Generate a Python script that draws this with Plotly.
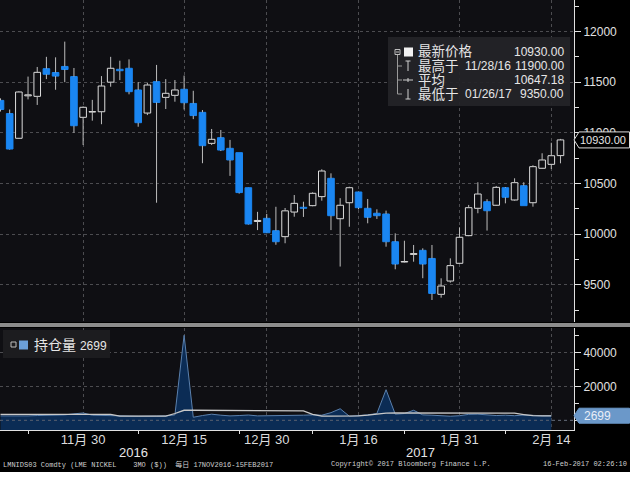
import plotly.graph_objects as go

# ---------------- data ----------------
trade_days = ["11/17/16","11/18/16","11/21/16","11/22/16","11/23/16","11/24/16","11/25/16",
              "11/28/16","11/29/16","11/30/16","12/01/16","12/02/16","12/05/16","12/06/16",
              "12/07/16","12/08/16","12/09/16","12/12/16","12/13/16","12/14/16","12/15/16",
              "12/16/16","12/19/16","12/20/16","12/21/16","12/22/16","12/23/16","12/28/16",
              "12/29/16","12/30/16","01/03/17","01/04/17","01/05/17","01/06/17","01/09/17",
              "01/10/17","01/11/17","01/12/17","01/13/17","01/16/17","01/17/17","01/18/17",
              "01/19/17","01/20/17","01/23/17","01/24/17","01/25/17","01/26/17","01/27/17",
              "01/30/17","01/31/17","02/01/17","02/02/17","02/03/17","02/06/17","02/07/17",
              "02/08/17","02/09/17","02/10/17","02/13/17","02/14/17","02/15/17"]

opens  = [11320,11190,10946,11365,11360,11633,11595,11655,11555,11153,11205,11208,11500,11627,
          11637,11423,11195,11505,11350,11370,11430,11290,11202,10896,10952,10847,10804,10458,
          10125,10156,10034,9975,10218,10265,10281,10370,10551,10152,10310,10416,10255,10206,
          10199,9925,9725,9800,9840,9760,9406,9537,9712,9985,10255,10320,10285,10458,10337,
          10478,10310,10650,10689,10775]
highs  = [11340,11230,11410,11555,11650,11750,11745,11900,11640,11260,11325,11560,11750,11712,
          11725,11500,11495,11670,11530,11521,11565,11415,11225,11038,11028,10930,10805,10460,
          10220,10200,10270,10258,10386,10320,10413,10640,10600,10355,10468,10420,10347,10245,
          10232,10008,9935,9893,9860,9893,9564,9761,10067,10288,10512,10345,10475,10465,10551,
          10512,10680,10798,10902,10940]
lows   = [11210,10835,10940,11330,11275,11530,11425,11500,11000,10880,11120,11085,11455,11520,
          11380,11060,11175,10310,11235,11307,11230,11135,10700,10880,10820,10575,10400,10095,
          10040,10010,9895,9910,10172,10170,10275,10330,10040,9680,10073,10245,10107,10150,
          9876,9653,9720,9728,9565,9350,9373,9521,9705,9980,10206,10035,10280,10304,10330,
          10281,10271,10645,10643,10699]
closes = [11230,10840,11403,11375,11597,11578,11560,11625,11070,11252,11210,11462,11637,11613,
          11406,11100,11472,11300,11390,11423,11297,11170,10873,10936,10830,10732,10410,10100,
          10135,10014,9925,10230,10304,10255,10403,10623,10182,10285,10458,10261,10166,10182,
          9925,9705,9730,9808,9705,9415,9488,9689,9969,10261,10396,10231,10462,10364,10508,
          10281,10666,10732,10774,10930]

open_interest = [2600,2500,2400,2600,2800,3000,2900,3200,3800,4300,3000,2800,2500,2400,2500,
                 2400,2300,2500,2600,3200,50000,1800,2800,3600,3000,2600,2800,3100,2600,2600,
                 2900,2800,3000,3000,3200,3000,4500,6800,2400,2600,3200,4000,18000,3600,4000,
                 5900,3200,3000,2600,2400,2700,3500,3600,3000,2800,3000,2700,3100,2800,2700,2699]
oi_line = [3500]*13 + [2400]*6 + [4000] + \
          [5900,5900,5900,5800,5800,5800,5800,5700,5700,5700,5700,5600,5600,5600] + \
          [3500] + [2400,2400,2400,2500,2600] + [3000, 3600] + \
          [4200,4300,4300,4400,4400,4300,4300,4300,4200,4200,4300,4300,4300,4300,4200] + \
          [3400, 2700, 2600, 2600]

tick_idx = [9, 20, 29, 39, 50, 60]
tick_text = ["11月 30", "12月 15", "12月 30", "1月 16", "1月 31", "2月 14"]
minor_tick_idx = [3, 15, 26, 34, 44, 55]
price_ticks = [9500, 10000, 10500, 11000, 11500, 12000]
price_tick_text = ["9500", "10000", "10500", "11000", "11500", "12000"]
oi_ticks = [0, 20000, 40000]
oi_tick_text = ["", "20000", "40000"]
average_price = 10647.18

# ---------------- geometry helpers ----------------
W, H = 630, 490
PW, PH = 574, 430          # plot area size in pixels (l=0, t=0)
def X(px): return px / PW
def Y(py): return (PH - py) / PH

PX_PER_PRICE = 1 / 9.87    # px per price unit (main panel)
PX_PER_OI = 1.7 / 1000     # px per contract (lower panel)
Y_MAIN = [12000 - (322 - 31.5) / PX_PER_PRICE, 12000 + 31.5 / PX_PER_PRICE]
Y_OI = [-(430 - 420.3) / PX_PER_OI, (420.3 - 328) / PX_PER_OI]

BG = "#0f0f13"
BLUE = "#1a86f2"
WHITE = "#dcdcdc"
GRID = "#4c4c50"
FONT = "Liberation Sans, Noto Sans CJK SC, sans-serif"

n = len(opens)
xs = list(range(n))

# wicks: above and below bodies
wx, wy = [], []
for i in xs:
    top, bot = max(opens[i], closes[i]), min(opens[i], closes[i])
    if highs[i] > top:
        wx += [i, i, None]; wy += [top, highs[i], None]
    if lows[i] < bot:
        wx += [i, i, None]; wy += [bot, lows[i], None]

base = [min(o, c) for o, c in zip(opens, closes)]
height = [max(abs(c - o), 4) for o, c in zip(opens, closes)]
up = [c >= o for o, c in zip(opens, closes)]
fill = [BG if u else BLUE for u in up]
edge = [WHITE if u else BLUE for u in up]

fig = go.Figure()
fig.add_trace(go.Scatter(x=wx, y=wy, mode="lines", line=dict(color="#bdbdbd", width=1),
                         hoverinfo="skip", showlegend=False, xaxis="x", yaxis="y"))
fig.add_trace(go.Bar(x=xs, y=height, base=base, width=0.72,
                     marker=dict(color=fill, line=dict(color=edge, width=1)),
                     hoverinfo="skip", showlegend=False, xaxis="x", yaxis="y"))
oi_x = xs[:len(open_interest)]
fig.add_trace(go.Scatter(x=oi_x, y=[Y_OI[0]] * len(oi_x), mode="lines", line=dict(width=0),
                         hoverinfo="skip", showlegend=False, xaxis="x2", yaxis="y2"))
fig.add_trace(go.Scatter(x=oi_x, y=open_interest, mode="lines", fill="tonexty",
                         fillcolor="#0b2c55", line=dict(color="#5a80ad", width=1),
                         hoverinfo="skip", showlegend=False, xaxis="x2", yaxis="y2"))
fig.add_trace(go.Scatter(x=xs[:len(oi_line)], y=oi_line, mode="lines",
                         line=dict(color="#c8c8c8", width=1.3),
                         hoverinfo="skip", showlegend=False, xaxis="x2", yaxis="y2"))

xr = [-0.5 / 9.18, (PW - 0.5) / 9.18]
common_x = dict(range=xr, tickvals=tick_idx, showgrid=True, gridcolor=GRID, griddash="dot",
                gridwidth=1, zeroline=False, fixedrange=True)
fig.update_layout(
    width=W, height=H, autosize=False,
    margin=dict(l=0, r=W - PW, t=0, b=H - PH, pad=0),
    paper_bgcolor="#000000", plot_bgcolor=BG,
    font=dict(family=FONT, color="#e0e0e0", size=13),
    showlegend=False, barmode="overlay", hovermode=False,
    xaxis=dict(domain=[0, 1], anchor="y", showticklabels=False, ticks="", **common_x),
    xaxis2=dict(domain=[0, 1], anchor="y2", ticktext=tick_text, ticks="",
                tickfont=dict(size=13, color="#dcdcdc"), ticklabelstandoff=-3,
                showline=True, linecolor="#e0e0e0", linewidth=1,
                minor=dict(tickvals=minor_tick_idx, ticks="outside", ticklen=3,
                           tickcolor="#e0e0e0", showgrid=False),
                **common_x),
    yaxis=dict(domain=[Y(322), 1], range=Y_MAIN,
               side="right", tickvals=price_ticks, ticktext=price_tick_text,
               ticks="outside", ticklen=6, tickcolor="#e0e0e0",
               tickfont=dict(size=12, color="#e0e0e0"), showgrid=True, gridcolor=GRID,
               griddash="dot", zeroline=False, showline=True, linecolor="#e0e0e0", linewidth=1,
               minor=dict(dtick=250, tick0=0, ticks="outside", ticklen=4, tickcolor="#e0e0e0",
                          showgrid=False),
               fixedrange=True),
    yaxis2=dict(domain=[0, Y(328)], range=Y_OI,
                side="right", tickvals=oi_ticks, ticktext=oi_tick_text, ticks="outside", ticklen=6,
                tickcolor="#e0e0e0", tickfont=dict(size=12, color="#e0e0e0"),
                showgrid=True, gridcolor=GRID, griddash="dot", zeroline=False,
                showline=True, linecolor="#e0e0e0", linewidth=1,
                minor=dict(tickvals=[10000, 30000, 50000], ticks="outside", ticklen=4,
                           tickcolor="#e0e0e0", showgrid=False),
                fixedrange=True),
)

shapes = []
def rect(x0, y0, x1, y1, fillc, linec=None, lw=0):
    shapes.append(dict(type="rect", xref="paper", yref="paper", x0=X(x0), x1=X(x1),
                       y0=Y(y1), y1=Y(y0), fillcolor=fillc,
                       line=dict(color=linec or fillc, width=lw)))
def seg(x0, y0, x1, y1, c="#cfcfcf", w=1, dash=None):
    shapes.append(dict(type="line", xref="paper", yref="paper", x0=X(x0), x1=X(x1),
                       y0=Y(y0), y1=Y(y1), line=dict(color=c, width=w, dash=dash)))

# dotted zero line visible over the open-interest fill
shapes.append(dict(type="line", xref="paper", yref="y2", x0=0, x1=1, y0=0, y1=0,
                   line=dict(color="#5a6270", width=1, dash="dot")))

# panel separator and bottom white strip
rect(0, 323, W, 327, "#8c8c8c")
rect(0, 472, W, H, "#ffffff")

# main legend box
rect(388, 37, 570, 106, "rgba(36,36,40,0.93)")
rect(395, 49.5, 400, 54.5, "rgba(0,0,0,0)", "#bdbdbd", 1)
seg(396, 52, 399, 52, "#bdbdbd")
rect(404, 47.5, 413, 56.5, "#f2f2f2")
seg(397.5, 55, 397.5, 94, "#9a9a9a")
for yy in (66, 80, 94):
    seg(397.5, yy, 402, yy, "#9a9a9a")
seg(408, 61, 408, 71); seg(405.5, 61, 410.5, 61)          # high marker
seg(403, 80, 413, 80); seg(408, 78, 408, 82)              # average marker
seg(408, 89, 408, 99); seg(405.5, 99, 410.5, 99)          # low marker

# lower legend box
rect(3, 330, 110, 358, "#1c1c1f")
rect(11, 342, 16, 347, "rgba(0,0,0,0)", "#bdbdbd", 1)
rect(19, 340.5, 28, 349.5, "#6b9fd8")

# last price pointer boxes
def arrow_box(y_mid, h, fillc, linec):
    shapes.append(dict(type="path", xref="paper", yref="paper",
                       path=f"M {X(574)},{Y(y_mid)} L {X(579)},{Y(y_mid - h / 2)} L {X(629.5)},{Y(y_mid - h / 2)} "
                            f"L {X(629.5)},{Y(y_mid + h / 2)} L {X(579)},{Y(y_mid + h / 2)} Z",
                       fillcolor=fillc, line=dict(color=linec, width=1)))
last_y = 31.5 + (12000 - closes[-1]) * PX_PER_PRICE
arrow_box(last_y, 16, "#000000", "#dcdcdc")
oi_y = 420.3 - open_interest[-1] * PX_PER_OI
arrow_box(oi_y, 15, "#6b98c9", "#6b98c9")
fig.update_layout(shapes=shapes)

ann = []
def txt(x, y, s, size=13, anchor="left", color="#e6e6e6", family=FONT):
    ann.append(dict(xref="paper", yref="paper", x=X(x), y=Y(y), text=s, showarrow=False,
                    xanchor=anchor, yanchor="middle", borderpad=0,
                    font=dict(size=size, color=color, family=family)))

hi_i = max(xs, key=lambda i: highs[i])
lo_i = min(xs, key=lambda i: lows[i])
txt(417, 52, "最新价格", 13.5)
txt(565, 52, f"{closes[-1]:.2f}", 12, "right")
txt(417, 66, "最高于", 13.5)
txt(464, 66, trade_days[hi_i], 12)
txt(565, 66, f"{highs[hi_i]:.2f}", 12, "right")
txt(417, 80, "平均", 13.5)
txt(565, 80, f"{average_price:.2f}", 12, "right")
txt(417, 94, "最低于", 13.5)
txt(464, 94, trade_days[lo_i], 12)
txt(565, 94, f"{lows[lo_i]:.2f}", 12, "right")

txt(33, 345, f"持仓量 <span style='font-size:12px'>{open_interest[-1]}</span>", 14)

txt(627, last_y, f"{closes[-1]:.2f}", 11, "right")
txt(583, oi_y, f"{open_interest[-1]}", 12, color="#e8eef8")

txt(133, 452, "2016", 13, "center")
txt(420, 452, "2017", 13, "center")
MONO = "Liberation Mono, DejaVu Sans Mono, Noto Sans CJK SC, monospace"
txt(2, 464, "LMNIDS03 Comdty (LME NICKEL    3MO ($))  每日 17NOV2016-15FEB2017", 7, color="#cfcfcf", family=MONO)
txt(330, 464, "Copyright© 2017 Bloomberg Finance L.P.", 7, color="#cfcfcf", family=MONO)
txt(628, 464, "16-Feb-2017 02:26:10", 7, "right", color="#cfcfcf", family=MONO)
fig.update_layout(annotations=ann)

fig.write_html("out.html", config={"displayModeBar": False},
               post_script="document.body.style.margin='0';document.body.style.overflow='hidden';")
